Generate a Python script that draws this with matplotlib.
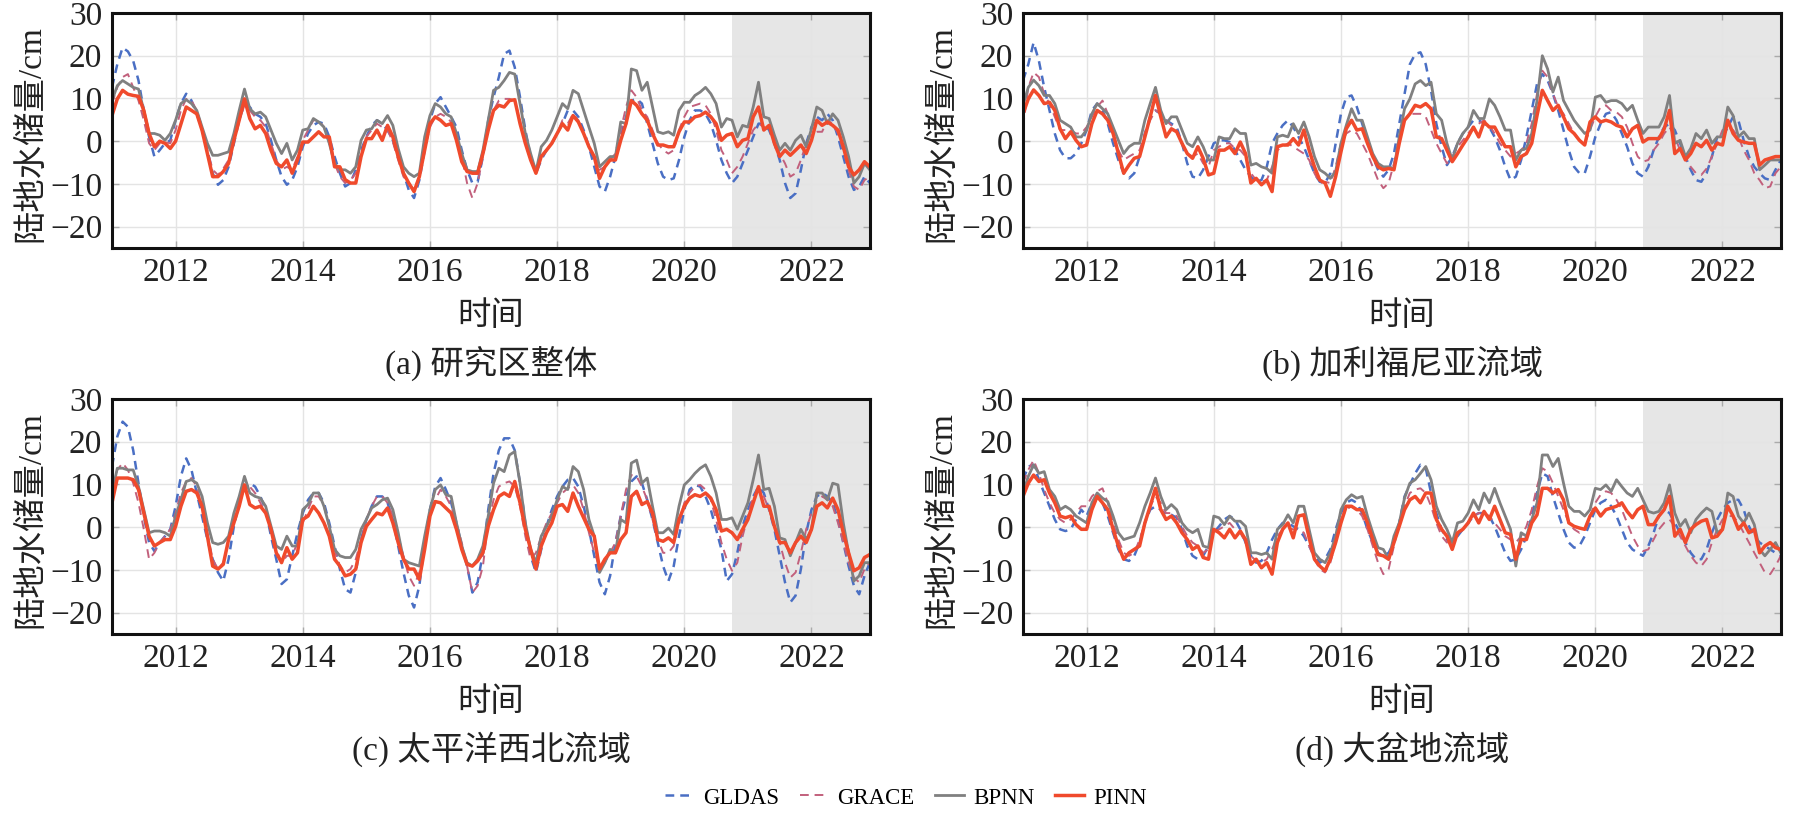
import numpy as np
import matplotlib
matplotlib.use('Agg')
import matplotlib.pyplot as plt
from matplotlib.lines import Line2D

plt.rcParams['font.family'] = ['Liberation Serif', 'Noto Sans CJK SC']
plt.rcParams['axes.unicode_minus'] = True

# monthly series, Jan 2011 .. Dec 2022 (cm)
years = np.arange(2011, 2023)

gldas_a = [12.6, 18, 21.9, 21, 18.8, 14.2, 7.2, 1, -3.6, -2.1, -0.5, 0.2,
           4.9, 8.8, 11.1, 9.5, 6.4, 2.6, -2.1, -7.5, -10.2, -9.1, -6, -0.5,
           4.9, 8.8, 8, 6.4, 5.7, 4.1, 0.2, -4.4, -8.3, -10.2, -9.1, -6,
           -1.3, 1.8, 3.7, 4.5, 4.1, 1, -3.6, -7.5, -10.6, -9.8, -6.7, -2.1,
           1, 3.7, 4.9, 4.1, 2.6, 0.2, -3.6, -7.5, -11.4, -13.3, -9.1, -2.1,
           4.9, 8.8, 10.3, 8, 5.7, 3.3, -2.1, -6.7, -9.8, -9.5, -3.6, 4.9,
           10.3, 15, 20.4, 21.2, 17.3, 10.3, 2.6, -3.6, -7.5, -4.4, -2.1, -0.5,
           1.8, 4.1, 7.2, 7.2, 5.7, 2.6, -1.3, -6, -10.6, -11.8, -8.3, -3.6,
           1, 5.7, 9.5, 9.9, 8.8, 4.1, -0.5, -5.2, -8.3, -9.1, -8.7, -4.4,
           1, 4.9, 7.2, 7.2, 6.4, 4.1, 0.2, -4.4, -7.5, -9.8, -8.3, -5.2,
           -2.1, 1, 4.1, 4.1, 2.6, -0.5, -4.4, -9.8, -13.3, -12.2, -6.7, -0.5,
           3.3, 5.7, 4.9, 6.4, 4.9, 1, -3.6, -8.3, -11.4, -10.6, -8.3, -9.8]
grace_a = [8.8, 12.6, 15, 15.7, 12.6, 9.5, 4.9, -0.5, -2.1, -0.5, -0.2, -0.5,
           2.6, 7.2, 9.9, 9.5, 7.2, 3.3, -2.1, -6.7, -7.9, -6.4, -4.4, 0.2,
           4.9, 8.4, 7.2, 5.7, 4.9, 3.3, -0.5, -4.4, -6.7, -6, -6.7, -3.6,
           0.2, 2.6, 4.9, 4.9, 3.3, -0.5, -5.2, -8.3, -9.8, -9.1, -7.5, -2.9,
           1, 2.6, 4.1, 3.3, 2.6, -0.2, -4.4, -8.3, -9.8, -11.4, -8.3, -2.1,
           3.3, 5.7, 6.4, 5.7, 4.5, 1, -3.6, -9.8, -13.3, -9.8, -3.6, 3.3,
           7.2, 9.5, 9.9, 9.9, 9.5, 4.9, -0.5, -4.4, -6.7, -3.6, -2.1, -0.5,
           1.8, 4.9, 4.1, 6.4, 4.9, 1.8, -1.3, -3.6, -6.7, -6, -4.4, -2.9,
           2.6, 8, 11.9, 10.3, 7.2, 5.7, 2.6, -0.5, -2.1, -2.9, -2.1, 2.6,
           5.7, 8, 8.4, 8.8, 8.4, 6.4, 2.6, -2.1, -4.4, -7.5, -6, -3.6,
           -0.5, 2.6, 4.1, 3.3, 2.6, 0.2, -2.9, -5.2, -8.3, -7.5, -4.4, -0.5,
           1.8, 2.2, 2.2, 4.9, 4.1, 1.8, -2.1, -6.7, -10.6, -11.4, -9.1, -8.3]
bpnn_a = [9.5, 13, 14.2, 13.4, 12.6, 12.2, 7.2, 1.8, 1.8, 1.4, 0.2, 1.8,
          4.9, 8.8, 9.7, 8.8, 7.2, 3.3, -0.5, -3.3, -3.3, -2.9, -2.5, 1.8,
          7.2, 12.2, 7.6, 6.4, 6.8, 5.7, 2.6, -0.5, -2.9, -0.5, -4.4, -2.1,
          2.6, 2.9, 5.3, 4.5, 3.3, -0.5, -5.2, -6.7, -6.7, -7.5, -6, 0.2,
          2.6, 2.9, 4.9, 4.1, 6, 3.7, -1.7, -6, -7.5, -8.3, -7.5, 1,
          6, 8.8, 8, 6.4, 5.7, 1.8, -2.9, -6.7, -7.1, -7.1, -2.1, 4.9,
          11.9, 12.6, 14.2, 16.1, 15.7, 8.8, 1.8, -2.9, -7.1, -1.3, 0.2, 2.6,
          5.7, 8.8, 7.6, 11.9, 11.1, 7.2, 3.3, -0.5, -6, -4.8, -3.6, -3.6,
          4.5, 4.1, 16.9, 16.5, 11.9, 13.8, 8, 2.2, 1.8, 2.2, 1.4, 7.2,
          9.1, 9.1, 10.7, 11.5, 12.6, 11.1, 8.8, 3.3, 5.3, 4.9, 1, 3.7,
          3.3, 8, 13.8, 5.7, 5.3, 1.4, -2.1, -0.5, -2.1, 0.2, 1.4, -1.3,
          2.9, 8, 7.2, 4.1, 6.4, 4.9, 1, -3.6, -9.8, -8.3, -5.2, -6.7]
pinn_a = [6, 9.9, 11.9, 11, 10.7, 10.5, 7.2, 1.8, -1.3, 0, -0.5, -1.7,
          0, 4, 8, 7.2, 6.4, 2.5, -2.9, -8.3, -8.3, -7.1, -5.2, 0.2,
          4.9, 9.9, 5.3, 2.9, 3.7, 1.8, -2.1, -5.2, -6, -4.4, -7.5, -4.4,
          -0.2, -0.2, 1, 2.2, 1, 1, -6, -6, -9, -9.8, -9.8, -3.6,
          0.6, 0.6, 2.6, 0.2, 3.7, 1, -3.6, -7.5, -9.8, -11.8, -8.3, -2.1,
          4.1, 5.7, 4.9, 3.7, 4.1, 0.2, -4.8, -7.1, -7.5, -7.5, -2.9, 2.6,
          7.2, 8.4, 8, 9.5, 9.7, 4.1, -0.5, -4.4, -7.5, -3.6, -2.1, -0.5,
          1.8, 4.1, 2.6, 6, 4.5, 1.8, -1.3, -3.6, -8.7, -6, -4.4, -4.4,
          0.2, 4.1, 9.5, 8.4, 6.4, 4.9, 1.8, -0.9, -0.9, -1.3, -1.3, 2.2,
          4.5, 4.5, 5.7, 6, 6.8, 5.7, 4.1, 0.2, 1.4, 1.8, -1.3, 0.2,
          0.6, 5.7, 8, 2.6, 3.7, -0.5, -3.6, -2.1, -3.3, -2.1, -0.9, -2.9,
          0.2, 4.9, 3.7, 4.5, 3.7, 2.6, -1.3, -6, -7.9, -6.7, -4.8, -6]

gldas_b = [14.2, 18, 23.1, 18.8, 12.6, 7.2, 1.8, -2.1, -4, -4, -2.9, -0.5,
           2.6, 7.2, 8.8, 7.2, 4.1, -0.5, -4.4, -7.5, -8.7, -7.5, -3.6, 1.8,
           5.7, 7.2, 6.4, 4.9, 4.1, 3.3, -0.5, -5.2, -8.3, -8.7, -6.7, -3.6,
           -0.5, 0.2, 0.2, -0.2, -2.1, -4.4, -6.7, -8.3, -9.5, -9.1, -6, -0.5,
           1.8, 3.7, 4.9, 3.3, 1, -1.3, -4.4, -7.5, -9.5, -9.8, -7.5, -0.5,
           6.4, 10.3, 10.7, 8, 4.1, 0.2, -3.6, -6.7, -8.3, -6.7, -2.9, 4.1,
           11.1, 18, 20.4, 20.8, 18, 11.9, 4.1, -1.3, -5.6, -3.6, -0.5, 1.8,
           3.3, 4.9, 4.9, 4.1, 3.3, 1, -2.1, -6, -9.1, -8.3, -4.4, 1,
           7.2, 13.4, 15.7, 14.2, 11.1, 7.2, 2.6, -2.1, -6, -7.5, -7.5, -3.6,
           1, 4.1, 6.4, 6.8, 4.9, 1.8, -1.3, -5.2, -7.5, -8.3, -6, -2.1,
           1, 3.3, 4.1, 2.6, -0.5, -3.6, -6.7, -9.1, -9.5, -7.5, -3.6, 1,
           1, 3.3, 5.7, 4.9, 0.2, -3.6, -6, -7.5, -8.7, -9.1, -6.7, -4.4]
grace_b = [3.3, 12.6, 16.1, 15, 11.1, 8.8, 5.7, 2.6, 2.6, 2.6, 1.8, 1.8,
           3.3, 5.7, 8, 9.5, 6.4, 1.8, -2.1, -4.4, -3.6, -2.9, -2.1, 1.8,
           4.9, 7.2, 6.4, 4.9, 3.7, 2.6, -0.5, -2.9, -3.6, -2.9, -5.2, -6,
           -2.1, -1.3, -0.5, -0.5, -1.7, -2.1, -3.6, -7.5, -9.1, -9.5, -9.1, -6,
           -2.1, -1.3, -0.5, -1.3, -2.1, -2.9, -4.4, -7.5, -9.8, -9.5, -9.8, -6,
           -0.5, 1.8, 2.6, 1.8, -0.5, -2.9, -6, -9.1, -11, -9.8, -5.2, 1,
           4.9, 6.4, 6.4, 6.4, 5.7, 2.6, -0.5, -2.9, -5.2, -3.6, -1.3, 0.2,
           1.8, 3.3, 4.1, 4.9, 3.7, 1.8, -0.5, -2.1, -3.6, -2.9, -2.1, -0.5,
           4.1, 11.1, 16.5, 15, 11.1, 8, 6.4, 4.1, 1.8, 0.2, -0.5, 2.6,
           5.7, 8, 8.4, 7.2, 6.8, 5.7, 3.3, -0.5, -3.6, -4.8, -4.4, -2.1,
           -0.5, 1.8, 3.3, 1, -2.1, -4, -6, -7.5, -7.9, -6.4, -3.6, -0.5,
           2.6, 3.3, 2.6, 1, -2.1, -4.4, -7.5, -9.1, -11, -10.6, -7.5, -6]
bpnn_b = [8.4, 12.6, 14.3, 13, 10.7, 10.7, 8.8, 4.9, 4.1, 3.3, 1, 1,
          2.6, 6.4, 8.8, 7.6, 6.4, 3.3, 0.2, -2.9, -1.3, -0.5, -0.5, 4.9,
          8.8, 12.6, 7.2, 4.1, 5.7, 5.7, 2.6, -0.5, -1.3, 1, -1.3, -4.4,
          -4.4, 1, 0.6, 0.6, 2.9, 1.8, 1.8, -5.6, -5.2, -6, -6.4, -7.5,
          1, 1.4, 1, 4.1, 1.8, 4.5, 1, -3.6, -6.7, -7.5, -8.7, -7.1,
          -0.5, 3.7, 7.6, 4.9, 4.9, 1, -2.9, -5.2, -6, -6, -6.4, 1,
          7.6, 9.9, 13.4, 14.2, 13, 13.8, 6.4, 4.9, -0.5, -4.4, -0.5, 1.8,
          3.3, 7.2, 5.3, 5.3, 9.9, 8.4, 5.7, 2.6, 2.6, -4.4, -2.1, -1.7,
          1.8, 9.5, 20, 16.9, 11.5, 15, 9.5, 7.2, 4.9, 3.3, 1.8, 2.6,
          10.3, 10.7, 9.1, 9.5, 9.5, 8.8, 7.2, 8.4, 4.9, 1.8, 3.3, 3.3,
          3.3, 5.7, 10.7, -0.5, 0.2, -3.6, -1.7, 1.8, 0.6, 2.6, -0.5, 1,
          1, 8, 6, 1, 2.2, 0.6, 0.6, -6.7, -5.6, -4.4, -4.4, -4.4]
pinn_b = [6.4, 9.9, 12, 10.7, 8.8, 9.1, 7.2, 2.9, 0.6, 2.2, 0.2, -1.3,
          -0.9, 4.1, 7.2, 6.4, 4.9, 1.8, -2.9, -7.5, -5.6, -4, -3.6, 1,
          5.7, 10.7, 5.7, 1, 2.9, 2.2, -0.5, -2.9, -4, -1.3, -4, -7.9,
          -7.5, -2.1, -2.1, -1.3, -2.9, -0.2, -2.9, -9.8, -8.7, -10.2, -9.1, -11.8,
          -1.3, -0.9, -0.9, 0.6, -0.9, 2.6, -2.1, -6, -9.1, -9.8, -12.9, -8.3,
          -2.5, 2.9, 4.9, 2.6, 2.9, -0.5, -3.6, -6, -6.7, -6.4, -6.7, -0.5,
          4.9, 6.4, 8.4, 8, 8.8, 7.6, 1, 0.6, -2.1, -4.8, -2.9, -0.9,
          1, 3.3, 1, 4.5, 3.3, 3.3, 1, -1.3, -1.3, -6, -3.6, -2.9,
          -0.5, 6, 11.9, 9.5, 7.2, 8.4, 5.7, 2.9, 1.8, 0.2, -0.9, 4.5,
          5.7, 4.5, 4.9, 4.5, 3.7, 3.3, 1, 2.9, 3.7, -0.2, 0.6, 0.6,
          0.6, 2.9, 7.2, -2.9, -1.7, -4.4, -2.9, -0.5, -1.3, 0.2, -2.1, -0.5,
          -0.9, 4.9, 1.8, 0.2, -0.2, -0.5, -0.5, -5.6, -4.4, -4, -3.6, -3.6]

gldas_c = [14.2, 21.2, 24.7, 23.5, 18, 10.3, 2.6, -3.6, -5.6, -3.6, -2.1, -0.5,
           4.9, 11.9, 16.1, 13.4, 8, 2.6, -2.9, -7.5, -10.6, -12.6, -7.5, 0.2,
           5.7, 9.1, 10.3, 9.5, 7.2, 4.1, -2.1, -7.5, -13.3, -12.2, -6.7, -1.3,
           3.3, 6.4, 8, 8, 5.7, 1, -4.4, -9.8, -14.5, -15.3, -10.6, -2.9,
           1.8, 4.9, 7.2, 7.2, 5.7, 1.8, -4.4, -10.6, -16, -18.8, -13.7, -3.6,
           4.1, 9.5, 11.5, 8.8, 5.7, 1, -4.4, -9.1, -15.3, -12.9, -6, 4.1,
           12.6, 18, 20.8, 20.8, 18, 10.3, 1, -6.7, -10.6, -5.2, 0.2, 4.1,
           7.2, 9.5, 11.1, 11.5, 9.5, 4.9, -0.5, -6.7, -12.9, -15.7, -11.4, -3.6,
           2.6, 7.2, 10.7, 11.9, 10.3, 6.4, 1.8, -3.6, -9.1, -12.6, -9.1, -2.1,
           4.1, 8.8, 9.9, 9.5, 7.2, 4.1, -0.5, -5.2, -12.6, -11, -6, 0.2,
           4.1, 7.2, 9.5, 8, 4.1, -0.5, -6.7, -12.9, -17.6, -16, -9.8, -1.3,
           4.1, 7.2, 8, 7.2, 5.7, 1.8, -3.6, -9.1, -13.7, -15.7, -11.4, -8.3]
grace_c = [9.5, 13.4, 15, 13.4, 10.3, 5.7, -0.5, -7.5, -6, -3.6, -2.1, -0.5,
           3.3, 8, 10.7, 11.5, 9.5, 4.9, -1.3, -7.5, -9.8, -8.3, -3.6, 1.8,
           5.7, 9.1, 9.5, 8, 5.7, 3.3, -0.5, -5.2, -8.3, -6.7, -6.7, -3.6,
           1, 4.1, 7.2, 7.2, 4.9, 0.2, -5.2, -9.1, -10.6, -9.8, -7.5, -2.9,
           1.8, 4.9, 7.2, 7.2, 5.7, 2.6, -2.1, -6.7, -11.4, -13.7, -10.6, -3.6,
           2.6, 6.4, 8.8, 7.2, 4.9, 1, -3.6, -9.1, -15.3, -13.7, -9.1, 1,
           6.4, 9.5, 10.3, 10.7, 9.5, 4.9, -2.1, -7.5, -6, -2.1, 1, 3.3,
           5.7, 8, 9.1, 9.9, 8, 4.1, -1.3, -6, -9.1, -8.3, -6, -3.6,
           2.6, 8.8, 12.2, 11.9, 9.5, 6.4, 1.8, -2.9, -6, -6, -4.4, 1,
           5.7, 8, 9.5, 9.9, 8.8, 6.4, 1.8, -3.6, -7.5, -10.2, -8.3, -2.1,
           2.6, 7.2, 8.8, 7.2, 4.1, 0.2, -3.6, -8.3, -11.8, -10.6, -6, -0.5,
           3.3, 6.4, 7.2, 6.4, 4.9, 1, -3.6, -8.3, -11.8, -12.9, -9.8, -8.3]
bpnn_c = [8, 13.8, 13.8, 13.4, 13.4, 9.5, 4.1, -1.3, -0.9, -0.9, -1.3, -2.1,
          2.6, 6.4, 10.7, 11.1, 10.3, 7.2, 1, -3.6, -4, -3.6, -2.1, 3.3,
          7.2, 11.9, 8, 7.2, 6.8, 4.9, 0.2, -4.4, -5.2, -2.1, -4.4, -4.4,
          4.1, 5.3, 8, 8, 4.9, 0.2, -5.2, -6.7, -7.1, -7.1, -5.2, -0.5,
          1.8, 4.5, 5.3, 6.4, 6.8, 4.1, -1.3, -7.5, -8.3, -8.7, -9.1, -2.1,
          4.1, 8.8, 9.9, 7.6, 7.2, 1, -4.4, -8.3, -9.1, -7.5, -4.4, 2.6,
          10.3, 13.8, 13, 16.9, 17.7, 10.3, 1, -5.2, -8.3, -2.1, 0.2, 2.6,
          6.4, 9.5, 8.8, 14.2, 13, 8.8, 1.8, -2.1, -10.6, -8.3, -5.2, -6,
          1.8, 1, 15, 15.7, 10.3, 11.5, 4.9, -1.3, -1.3, -0.2, -1.7, 4.9,
          9.9, 11.1, 12.6, 13.8, 14.6, 11.9, 8, 1.8, 1.8, 2.2, -0.5, 2.6,
          5.7, 11.1, 16.9, 8.8, 9.1, 4.9, -2.5, -2.9, -6.7, -3.6, -0.5, -2.9,
          -0.5, 8, 8, 6.4, 10.3, 9.9, 1, -6, -12.6, -11.4, -8.3, -8.3]
pinn_c = [5.7, 11.5, 11.5, 11.5, 11.1, 8.8, 3.3, -2.1, -4.4, -3.6, -2.9, -2.9,
          0.2, 4.9, 8.4, 8.8, 8, 4.9, -2.1, -9.1, -9.8, -8.7, -2.9, 1,
          4.9, 9.9, 5.3, 4.5, 4.9, 3.3, -0.5, -6, -8.3, -4.8, -7.5, -6,
          1.8, 2.6, 4.9, 3.3, 1, -2.1, -7.5, -9.1, -11.4, -11, -9.8, -3.6,
          0.2, 1.8, 3.3, 2.9, 4.5, 1, -3.6, -7.5, -9.8, -9.8, -12.2, -5.2,
          2.6, 6, 5.7, 4.5, 3.3, -0.5, -5.2, -8.7, -9.1, -7.9, -6, 0.2,
          4.1, 7.2, 8, 7.2, 10.7, 5.7, -0.5, -5.2, -9.8, -4.4, -1.3, 1,
          4.9, 5.3, 3.7, 8, 4.9, 2.2, -0.5, -2.1, -9.8, -7.5, -6, -6,
          -2.9, -1.3, 7.2, 8.4, 5.3, 6, 3.3, -2.9, -3.3, -2.5, -3.6, 1.8,
          4.9, 6.8, 7.6, 7.2, 8, 6.8, 4.1, -0.9, -0.5, -1.3, -2.9, -0.5,
          1.8, 5.7, 9.5, 4.9, 4.9, 0.2, -3.6, -3.6, -6, -3.6, -2.1, -3.6,
          -0.5, 4.9, 5.7, 4.5, 6.8, 4.1, -1.3, -6, -10.2, -9.5, -7.1, -6.4]

gldas_d = [11.1, 14.2, 14.6, 11.1, 8, 4.9, 1.8, -0.5, -0.9, -0.5, 1.8, 4.1,
           2.6, 5.7, 7.2, 5.7, 2.6, -1.3, -5.2, -7.5, -7.9, -6.7, -3.6, 1,
           4.1, 4.9, 4.1, 2.9, 2.9, 2.2, -0.5, -4.4, -6.7, -7.5, -6.7, -4.4,
           -1.3, 0.2, 1.8, 2.6, 1.8, -0.5, -3.6, -6.7, -8.3, -7.9, -6, -2.9,
           -0.5, 1, 1, 0.2, -0.5, -2.1, -4.4, -6.7, -8.3, -7.5, -5.2, -0.5,
           3.3, 5.7, 6.4, 5.7, 3.3, -0.5, -3.6, -6, -6.7, -6, -3.6, 1,
           7.2, 9.9, 12.6, 14.6, 13.8, 8, 3.3, -0.5, -2.9, -3.6, -2.1, -0.5,
           1, 2.6, 3.3, 3.3, 2.6, 0.2, -2.9, -6, -7.9, -7.5, -5.2, -2.1,
           2.6, 8, 12.6, 11.9, 7.2, 3.3, -0.5, -3.6, -4.8, -4.4, -2.1, 1,
           4.1, 5.7, 6.4, 4.9, 2.6, -0.5, -3.6, -5.2, -6, -6.7, -4.4, -1.3,
           2.6, 4.1, 3.3, 1, -1.3, -3.6, -6, -7.5, -7.5, -5.2, -1.3, 1.8,
           4.1, 5.7, 6.4, 6.4, 4.1, 0.2, -2.1, -3.6, -4.4, -5.2, -6, -6.7]
grace_d = [10.3, 13.4, 15.7, 12.6, 8.8, 5.7, 3.3, 1.8, 1, 1.8, 3.3, 4.9,
           4.9, 7.2, 8.4, 9.1, 5.7, 1, -2.9, -6, -6.7, -6, -2.9, 1,
           4.9, 7.2, 5.7, 3.3, 3.3, 2.6, 0.2, -2.1, -3.6, -4.4, -6, -5.2,
           -1.3, -0.5, 0.2, 1, -0.5, -1.3, -3.6, -6.7, -7.9, -8.3, -7.5, -5.2,
           -2.1, -0.5, -0.2, -0.5, -0.5, -1.3, -4.4, -7.5, -9.8, -10.6, -8.3, -3.6,
           1.8, 4.1, 4.9, 4.1, 2.6, -0.5, -4.4, -8.3, -11, -9.8, -4.4, 1,
           4.9, 8, 8.8, 9.1, 8, 4.9, 1, -2.1, -3.6, -2.9, -1.3, -0.5,
           1, 2.6, 3.3, 3.3, 2.6, 1, -0.5, -2.1, -2.9, -3.6, -2.1, 0.2,
           4.1, 9.5, 13.8, 13, 10.3, 7.2, 4.1, 1, -0.5, -1.3, -0.5, 2.6,
           5.7, 7.6, 8.4, 8, 6.4, 4.1, 1, -2.1, -4.4, -5.6, -5.2, -2.9,
           -0.5, 1, 1.8, 0.2, -2.1, -4.4, -6.7, -8.3, -9.1, -7.5, -3.6, -0.5,
           1.8, 2.6, 2.6, 1, -1.3, -3.6, -6, -8.3, -10.6, -11, -9.1, -6.7]
bpnn_d = [8, 11.9, 14.6, 12.6, 13, 8.8, 7.2, 4.1, 4.9, 4.1, 2.6, 1.8,
          1, 5.7, 8, 6.8, 6, 2.6, -1.3, -2.9, -2.5, -2.1, 1, 4.9,
          8, 11.5, 7.2, 4.1, 5.3, 4.1, 1, -0.5, -1.3, -0.5, -4.4, -4.8,
          2.6, 2.2, 0.6, 2.6, 1.4, 1.4, 0.2, -6, -6, -6.4, -6, -7.5,
          -0.5, 0.6, 2.9, 1, 4.9, 4.9, -0.5, -6, -7.5, -8.3, -6, -2.1,
          4.1, 6.4, 7.6, 6.8, 7.2, 2.6, -1.3, -4.8, -5.2, -7.5, -2.1, 1,
          6.8, 10.3, 11.1, 12.6, 14.2, 11.1, 4.9, 1.8, -0.5, -3.6, 1, 1.4,
          3.3, 6.4, 4.1, 8, 5.7, 9.1, 5.7, 2.6, -0.5, -9.1, -1.3, -2.1,
          1.8, 5.7, 16.9, 16.9, 14.2, 16.1, 10.3, 4.9, 3.7, 3.7, 2.6, 4.1,
          9.1, 8.8, 9.9, 8.4, 11.1, 9.5, 8, 7.2, 9.1, 6.4, 3.7, 3.3,
          3.7, 5.7, 9.9, 3.3, 0.2, 1.8, -1.3, 1.8, 3.3, 4.5, 3.7, -1.3,
          -0.5, 8, 7.2, 2.6, 1, 3.3, 0.6, -5.2, -6.7, -5.2, -3.6, -6]
pinn_d = [7.2, 10.3, 12.2, 10.7, 11.1, 8, 5.7, 2.6, 2.2, 2.6, 0.6, -0.5,
          -0.5, 4.1, 7.2, 5.7, 4.1, -0.5, -4.4, -7.5, -6, -5.2, -4.4, 1,
          4.9, 9.1, 4.1, 1.8, 2.6, 1, -1.3, -2.9, -5.2, -4.4, -7.1, -7.5,
          -0.5, -1.3, -2.5, -0.5, -2.5, -0.9, -2.9, -8.7, -7.5, -9.5, -8.3, -11,
          -3.6, -0.5, 1, -2.5, 2.6, 2.9, -2.5, -7.5, -9.1, -10.2, -7.5, -3.6,
          1, 4.9, 4.9, 4.1, 4.1, 1, -2.9, -6.4, -6.7, -7.5, -3.6, 0.2,
          4.1, 6.4, 7.2, 5.7, 8, 8, 1.8, -0.5, -2.1, -5.2, -1.3, -0.5,
          1, 3.3, 1, 3.7, 1.8, 4.9, 1.8, -1.3, -1.7, -7.5, -2.9, -2.9,
          1, 2.9, 9.1, 9.1, 8, 8.8, 6.4, 1, 0.2, -0.2, -0.5, 2.6,
          4.5, 2.6, 4.1, 4.5, 4.9, 5.7, 3.7, 2.2, 4.1, 4.9, 0.6, 0.6,
          2.6, 4.1, 7.2, -2.1, -0.5, -3.6, -0.5, 0.6, 1.4, 1.8, -2.5, -2.1,
          -0.5, 4.9, 2.6, -0.5, 1, -1.3, -0.5, -6, -4.4, -3.6, -4.8, -5.2]

titles = ['(a) 研究区整体', '(b) 加利福尼亚流域', '(c) 太平洋西北流域', '(d) 大盆地流域']
series_names = ['GLDAS', 'GRACE', 'BPNN', 'PINN']
panels = [(gldas_a, grace_a, bpnn_a, pinn_a),
          (gldas_b, grace_b, bpnn_b, pinn_b),
          (gldas_c, grace_c, bpnn_c, pinn_c),
          (gldas_d, grace_d, bpnn_d, pinn_d)]
test_start = 2020.75

t = years[0] + np.arange(len(gldas_a)) / 12.0

W, H = 1798, 816
fig = plt.figure(figsize=(W / 100, H / 100), dpi=100)

# pixel boxes (left, top) of each panel
boxes = [(112, 13), (1023, 13), (112, 399), (1023, 399)]
aw, ah = 758, 235

styles = [dict(color='#4a6fc4', lw=1.8, dashes=(3.5, 2.4)),
          dict(color='#c2607c', lw=1.4, dashes=(4.5, 3.0)),
          dict(color='#808080', lw=2.0),
          dict(color='#f04a2c', lw=2.5)]

for (lx, ty), title, data in zip(boxes, titles, panels):
    ax = fig.add_axes([lx / W, 1 - (ty + ah) / H, aw / W, ah / H])
    ax.axvspan(test_start, 2023, color='#e6e6e6', lw=0, zorder=0)
    for vals, st in zip(data, styles):
        ax.plot(t, vals, **st)
    ax.set_xlim(2011, 2022.92)
    ax.set_ylim(-25, 30)
    ax.set_xticks([2012, 2014, 2016, 2018, 2020, 2022])
    ax.set_yticks([-20, -10, 0, 10, 20, 30])
    ax.grid(True, color='#e4e4e4', lw=1)
    ax.set_axisbelow(True)
    ax.tick_params(direction='in', length=5, width=1, color='#aaaaaa',
                   top=True, right=True, labelsize=24, pad=7, labelcolor='#222222')
    for sp in ax.spines.values():
        sp.set_linewidth(2.2)
        sp.set_color('#111111')
    cx = (lx + aw / 2) / W
    bottom = ty + ah
    fig.text((lx - 81) / W, 1 - (ty + ah / 2 + 3) / H, '陆地水储量/cm',
             rotation=90, ha='center', va='center', fontsize=24, color='#222222')
    fig.text(cx, 1 - (bottom + 69) / H, '时间', ha='center', va='center',
             fontsize=24, color='#222222')
    fig.text(cx, 1 - (bottom + 115) / H, title, ha='center', va='center',
             fontsize=24, color='#222222')

handles = [Line2D([], [], **st) for st in styles]
fig.legend(handles, series_names, loc='center', bbox_to_anchor=(906 / W, 1 - 798 / H),
           ncol=4, frameon=False, fontsize=16.5, handlelength=1.25,
           columnspacing=0.9, handletextpad=0.4)

fig.savefig('out.png', dpi=100)
